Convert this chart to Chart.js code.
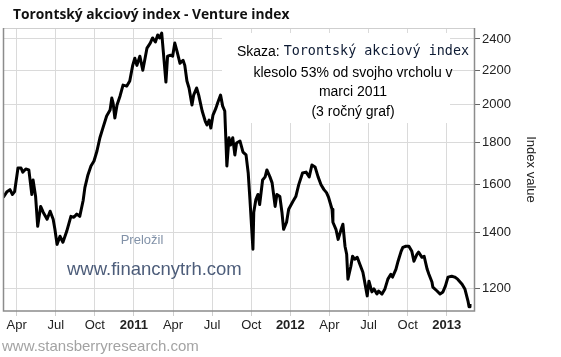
<!DOCTYPE html>
<html><head><meta charset="utf-8">
<script src="https://cdn.jsdelivr.net/npm/chart.js@4.4.0/dist/chart.umd.min.js"></script>
<style>html,body{margin:0;padding:0;background:#fff;}</style>
</head><body>
<canvas id="c" width="561" height="357"></canvas>
<script>
const chartTitle = 'Torontský akciový index - Venture index';
const yAxisTitle = 'Index value';
const noteLead = 'Skaza: ';
const noteMono = 'Torontský akciový index';
const noteLines = ['klesolo 53% od svojho vrcholu v', 'marci 2011', '(3 ročný graf)'];
const translatedBy = 'Preložil';
const siteText = 'www.financnytrh.com';
const sourceText = 'www.stansberryresearch.com';

const tickMonths = [3, 6, 9, 12, 15, 18, 21, 24, 27, 30, 33, 36];
const tickLabels = ['Apr', 'Jul', 'Oct', '2011', 'Apr', 'Jul', 'Oct', '2012', 'Apr', 'Jul', 'Oct', '2013'];
const yTicks = [1200, 1400, 1600, 1800, 2000, 2200, 2400];

const dates = ['2010-02-28','2010-03-09','2010-03-16','2010-03-22','2010-03-27','2010-04-04','2010-04-11','2010-04-15','2010-04-22','2010-04-29',
'2010-05-06','2010-05-09','2010-05-15','2010-05-20','2010-05-27','2010-06-02','2010-06-11','2010-06-18','2010-06-25','2010-06-29',
'2010-07-04','2010-07-11','2010-07-18','2010-07-27','2010-08-06','2010-08-13','2010-08-20','2010-08-27','2010-09-04','2010-09-08',
'2010-09-15','2010-09-22','2010-09-29','2010-10-06','2010-10-13','2010-10-20','2010-10-29','2010-11-06','2010-11-10','2010-11-13',
'2010-11-17','2010-11-22','2010-11-29','2010-12-06','2010-12-15','2010-12-22','2010-12-29','2011-01-03','2011-01-08','2011-01-15',
'2011-01-22','2011-02-01','2011-02-08','2011-02-13','2011-02-19','2011-02-24','2011-02-28','2011-03-05','2011-03-10','2011-03-15',
'2011-03-19','2011-03-26','2011-03-31','2011-04-05','2011-04-10','2011-04-17','2011-04-24','2011-04-28','2011-05-03','2011-05-08',
'2011-05-15','2011-05-19','2011-05-26','2011-05-31','2011-06-08','2011-06-15','2011-06-19','2011-06-24','2011-06-28','2011-07-03',
'2011-07-10','2011-07-14','2011-07-21','2011-07-26','2011-07-31','2011-08-05','2011-08-10','2011-08-14','2011-08-19','2011-08-24',
'2011-08-28','2011-09-05','2011-09-12','2011-09-19','2011-09-24','2011-09-28','2011-10-05','2011-10-07','2011-10-12','2011-10-17',
'2011-10-21','2011-10-28','2011-11-03','2011-11-07','2011-11-14','2011-11-19','2011-11-26','2011-11-30','2011-12-07','2011-12-12',
'2011-12-16','2011-12-23','2011-12-28','2012-01-07','2012-01-14','2012-01-21','2012-01-30','2012-02-07','2012-02-14','2012-02-20',
'2012-02-27','2012-03-05','2012-03-12','2012-03-19','2012-03-25','2012-03-30','2012-04-07','2012-04-09','2012-04-16','2012-04-21',
'2012-04-28','2012-05-02','2012-05-07','2012-05-11','2012-05-14','2012-05-21','2012-05-25','2012-05-30','2012-06-05','2012-06-11',
'2012-06-18','2012-06-21','2012-06-28','2012-07-02','2012-07-09','2012-07-14','2012-07-21','2012-07-25','2012-08-02','2012-08-09',
'2012-08-16','2012-08-23','2012-08-27','2012-09-04','2012-09-09','2012-09-16','2012-09-20','2012-09-27','2012-10-04','2012-10-11',
'2012-10-16','2012-10-23','2012-10-27','2012-11-04','2012-11-09','2012-11-16','2012-11-20','2012-11-27','2012-11-29','2012-12-09',
'2012-12-16','2012-12-23','2012-12-29','2013-01-04','2013-01-13','2013-01-20','2013-01-27','2013-02-06','2013-02-12','2013-02-19',
'2013-02-21','2013-02-23'];

const values = [1544,1569,1578,1557,1569,1676,1676,1657,1671,1667,
1557,1621,1548,1425,1506,1482,1453,1486,1453,1413,
1355,1386,1363,1405,1465,1461,1474,1465,1531,1587,
1644,1685,1709,1757,1823,1873,1937,1969,2036,2008,
1926,1997,2048,2111,2105,2135,2230,2275,2230,2288,
2200,2340,2373,2407,2380,2427,2407,2440,2281,2129,
2288,2294,2288,2373,2321,2243,2262,2230,2135,2094,
1997,2053,2094,2053,1964,1910,1889,1915,1873,1942,
1980,2008,2053,1991,1964,1685,1823,1787,1823,1738,
1797,1807,1752,1738,1653,1535,1337,1482,1535,1557,
1514,1621,1635,1667,1635,1608,1506,1557,1548,1482,
1413,1441,1494,1527,1548,1600,1653,1657,1635,1690,
1681,1635,1600,1578,1565,1544,1494,1441,1413,1374,
1413,1433,1348,1318,1230,1275,1311,1300,1307,1282,
1254,1230,1174,1223,1187,1197,1180,1190,1180,1197,
1230,1247,1237,1264,1293,1329,1344,1348,1348,1329,
1293,1318,1326,1307,1311,1264,1247,1220,1203,1190,
1180,1187,1207,1237,1240,1237,1230,1213,1197,1155,
1139,1148];

function monthIndex(s) {
  const [y, m, d] = s.split('-').map(Number);
  const dim = new Date(Date.UTC(y, m, 0)).getUTCDate();
  return (y - 2010) * 12 + (m - 1) + (d - 1) / dim;
}

const points = dates.map((d, i) => ({ x: monthIndex(d), y: values[i] }));
const SANS = '"Liberation Sans", Arial, sans-serif';

const decor = {
  id: 'decor',
  beforeDatasetsDraw(chart) {
    const ctx = chart.ctx;
    ctx.save();
    ctx.fillStyle = '#ffffff';
    ctx.fillRect(222, 33, 228, 90);
    ctx.restore();
  },
  afterDatasetsDraw(chart) {
    const ctx = chart.ctx, a = chart.chartArea;
    ctx.save();
    ctx.strokeStyle = '#cfcfcf';
    ctx.lineWidth = 1;
    ctx.beginPath(); ctx.moveTo(a.left, a.top + 0.5); ctx.lineTo(a.right, a.top + 0.5); ctx.stroke();
    ctx.strokeStyle = '#8c8c8c';
    ctx.lineWidth = 1.5;
    ctx.beginPath();
    ctx.moveTo(a.left + 0.5, a.top); ctx.lineTo(a.left + 0.5, a.bottom);
    ctx.lineTo(a.right - 0.5, a.bottom); ctx.lineTo(a.right - 0.5, a.top);
    ctx.stroke();
    ctx.restore();
  },
  afterDraw(chart) {
    const ctx = chart.ctx;
    ctx.save();
    ctx.fillStyle = '#111';
    ctx.font = 'bold 13.8px "Open Sans", sans-serif';
    ctx.textBaseline = 'alphabetic';
    ctx.textAlign = 'left';
    ctx.fillText(chartTitle, 13, 19);
    const cx = 353;
    ctx.textBaseline = 'middle';
    ctx.font = '14px ' + SANS;
    const w1 = ctx.measureText(noteLead).width;
    ctx.font = '13.4px "DejaVu Sans Mono", monospace';
    const w2 = ctx.measureText(noteMono).width;
    let x0 = cx - (w1 + w2) / 2;
    ctx.font = '14px ' + SANS;
    ctx.fillStyle = '#000';
    ctx.fillText(noteLead, x0, 52);
    ctx.font = '13.4px "DejaVu Sans Mono", monospace';
    ctx.fillStyle = '#0d1a33';
    ctx.fillText(noteMono, x0 + w1, 52);
    ctx.font = '14px ' + SANS;
    ctx.fillStyle = '#000';
    ctx.textAlign = 'center';
    const ys = [73, 92, 112];
    noteLines.forEach((t, i) => ctx.fillText(t, cx, ys[i]));
    ctx.fillStyle = '#8292a8';
    ctx.font = '13px ' + SANS;
    ctx.fillText(translatedBy, 142, 240);
    ctx.textAlign = 'left';
    ctx.fillStyle = '#4d5d7a';
    ctx.font = '18.5px ' + SANS;
    ctx.fillText(siteText, 67, 270);
    ctx.fillStyle = '#a3a3a3';
    ctx.font = '15px ' + SANS;
    ctx.fillText(sourceText, 2, 347);
    ctx.restore();
  }
};

new Chart(document.getElementById('c'), {
  type: 'line',
  data: {
    datasets: [{
      data: points,
      borderColor: '#000',
      borderWidth: 3,
      pointRadius: 0,
      tension: 0,
      fill: false,
      borderJoinStyle: 'round'
    }]
  },
  options: {
    responsive: false,
    animation: false,
    devicePixelRatio: 1,
    layout: { padding: { left: 3, top: 28, right: 0, bottom: 0 } },
    plugins: { legend: { display: false }, title: { display: false }, tooltip: { enabled: false } },
    scales: {
      x: {
        type: 'linear',
        min: 1.95,
        max: 38.17,
        afterBuildTicks: s => { s.ticks = tickMonths.map(v => ({ value: v })); },
        afterFit: s => { s.height = 46; },
        ticks: {
          autoSkip: false,
          maxRotation: 0,
          padding: 2,
          color: '#222',
          font: ctx => ({ family: SANS, size: 13, weight: /^\d{4}$/.test(tickLabels[ctx.index]) ? 'bold' : 'normal' }),
          callback: (v, i) => tickLabels[i]
        },
        grid: { color: '#dadada', lineWidth: 1, tickLength: 5, tickColor: '#cfcfcf' },
        border: { display: false }
      },
      y: {
        type: 'logarithmic',
        position: 'right',
        min: 1125.6,
        max: 2474.6,
        afterBuildTicks: s => { s.ticks = yTicks.map(v => ({ value: v })); },
        afterFit: s => { s.width = 86; },
        ticks: {
          padding: 2,
          color: '#222',
          font: { family: SANS, size: 13 },
          callback: v => String(v)
        },
        grid: { color: '#dadada', lineWidth: 1, tickLength: 5, tickColor: '#666' },
        border: { display: false },
        title: { display: true, text: yAxisTitle, color: '#222', font: { family: SANS, size: 13 }, padding: { top: 23, bottom: 0 } }
      }
    }
  },
  plugins: [decor]
});
</script>
</body></html>
